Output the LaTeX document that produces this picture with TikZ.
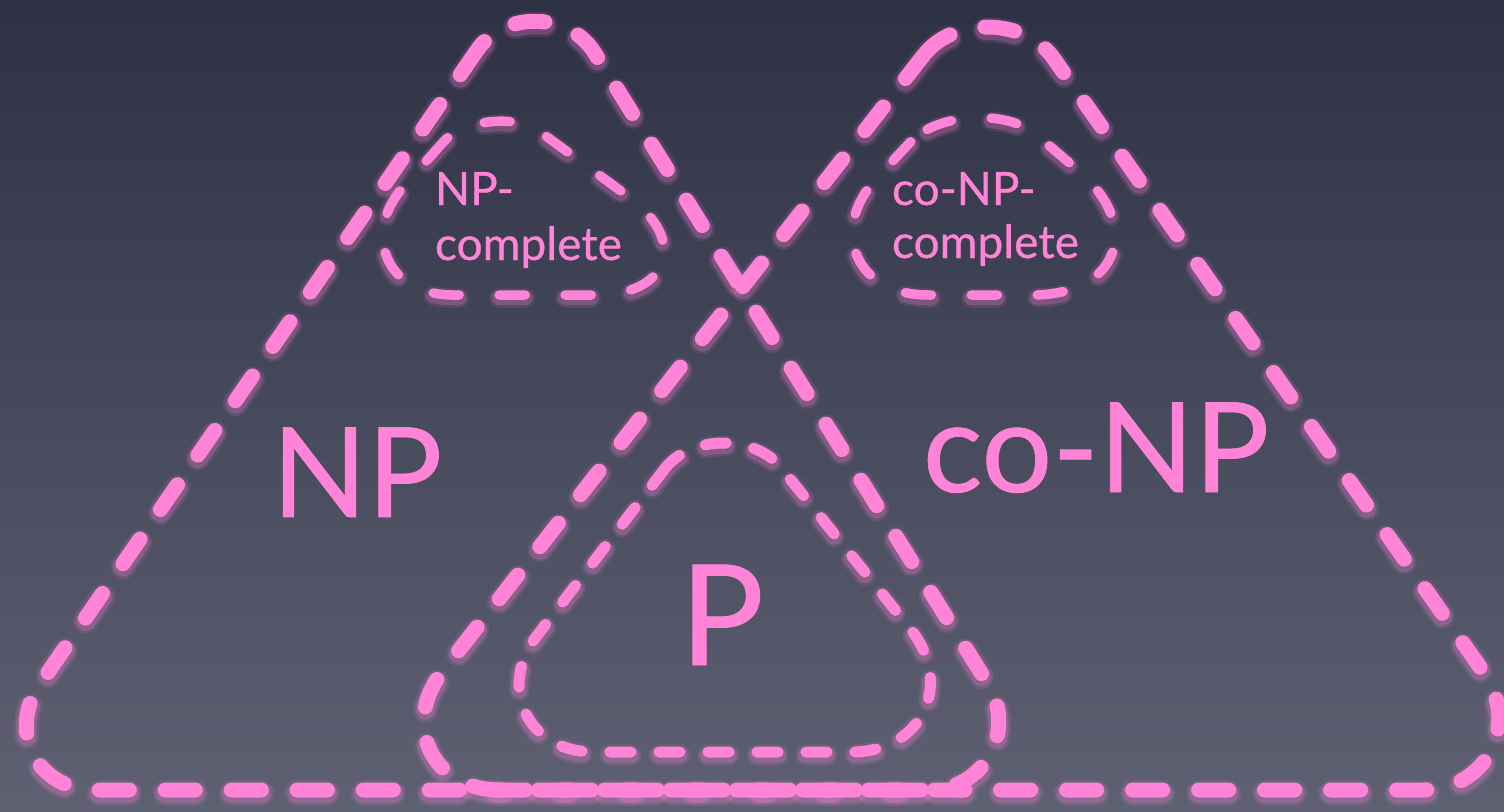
\documentclass[tikz,border=0pt]{standalone}
\usepackage{fontspec}
\setmainfont{Lato}
\newfontfamily\lblfont{Lato}[FakeBold=0.6]
\usetikzlibrary{calc}
\definecolor{pk}{HTML}{FF84D7}
\definecolor{bgtop}{HTML}{2E3044}
\definecolor{bgbot}{HTML}{5F6173}
% rounded triangle path: A, dA, B, dB, C, dC (tangent distances)
\newcommand\rtripath[6]{%
 ($(#1)!#2pt!(#3)$)
 -- ($(#3)!#4pt!(#1)$) .. controls ($(#3)!0.55*#4pt!(#1)$) and ($(#3)!0.55*#4pt!(#5)$) .. ($(#3)!#4pt!(#5)$)
 -- ($(#5)!#6pt!(#3)$) .. controls ($(#5)!0.55*#6pt!(#3)$) and ($(#5)!0.55*#6pt!(#1)$) .. ($(#5)!#6pt!(#1)$)
 -- ($(#1)!#2pt!(#5)$) .. controls ($(#1)!0.55*#2pt!(#5)$) and ($(#1)!0.55*#2pt!(#3)$) .. ($(#1)!#2pt!(#3)$) -- cycle}
\newcommand\gshape[8]{%
 \begin{scope}[transform canvas={yshift=-3pt}]
  \draw[#1, draw=pk, line cap=round, line width=\the\dimexpr#2pt+10pt\relax, opacity=0.12] \rtripath{#3}{#4}{#5}{#6}{#7}{#8};
  \draw[#1, draw=pk, line cap=round, line width=\the\dimexpr#2pt+5pt\relax, opacity=0.22] \rtripath{#3}{#4}{#5}{#6}{#7}{#8};
 \end{scope}
 \draw[#1, draw=pk, line cap=round, line width=#2pt] \rtripath{#3}{#4}{#5}{#6}{#7}{#8};
}
\tikzset{
 bigdash/.style={dash pattern=on 30pt off 36pt},
 pdash/.style={dash pattern=on 21pt off 28pt},
 cdash/.style={dash pattern=on 26pt off 40pt},
 lbl/.style={text=pk, inner sep=0pt, outer sep=0pt},
}
\begin{document}
\begin{tikzpicture}[x=1pt,y=-1pt]
\useasboundingbox (0,0) rectangle (1504,811);
\fill[top color=bgtop, bottom color=bgbot] (0,0) rectangle (1504,811);
% vertices
\coordinate (npA) at (538,-38);
\coordinate (npB) at (-33,790);
\coordinate (npC) at (1054,790);
\coordinate (cnA) at (991,-31);
\coordinate (cnB) at (350,790);
\coordinate (cnC) at (1566,790);
\coordinate (pA) at (722,394);
\coordinate (pB) at (448,752);
\coordinate (pC) at (1009,752);
\coordinate (ncA) at (487,93);
\coordinate (ncB) at (307,295);
\coordinate (ncC) at (763,295);
\coordinate (ccA) at (970,78);
\coordinate (ccB) at (768,295);
\coordinate (ccC) at (1224,295);
% shapes
\gshape{bigdash}{15}{npA}{107}{npB}{128}{npC}{126}
\gshape{bigdash}{15}{cnA}{109}{cnB}{150}{cnC}{144}
\gshape{pdash}{11}{pA}{94}{pB}{146}{pC}{158}
\gshape{cdash}{9.5}{ncA}{65}{ncB}{146}{ncC}{168}
\gshape{cdash}{9.5}{ccA}{87}{ccB}{160}{ccC}{192}
% labels
\node[lbl, font=\lblfont\fontsize{125}{125}\selectfont, anchor=base] (np) at (357,517) {NP};
\node[lbl, font=\lblfont\fontsize{125}{125}\selectfont, anchor=base] (conp) at (1096,492) {co-NP};
\node[lbl, font=\lblfont\fontsize{140}{140}\selectfont, anchor=base] (p) at (722,665) {P};
\node[lbl, font=\lblfont\fontsize{46}{55}\selectfont, align=left, anchor=base west] (npc) at (435,260) {NP-\\complete};
\node[lbl, font=\lblfont\fontsize{46}{53}\selectfont, align=left, anchor=base west] (conpc) at (892,258) {co-NP-\\complete};
\end{tikzpicture}
\end{document}
